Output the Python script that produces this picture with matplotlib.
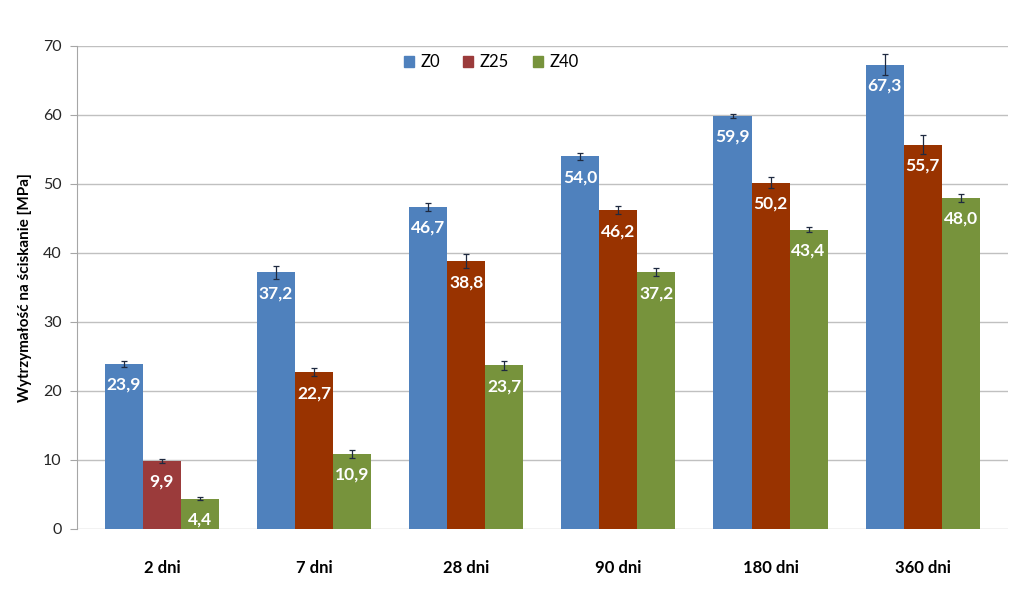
import numpy as np
import matplotlib.pyplot as plt
from matplotlib.patches import Patch

plt.rcParams['font.family'] = ['Lato', 'DejaVu Sans']

categories = ['2 dni', '7 dni', '28 dni', '90 dni', '180 dni', '360 dni']
series = ['Z0', 'Z25', 'Z40']
z0 = [23.9, 37.2, 46.7, 54.0, 59.9, 67.3]
z25 = [9.9, 22.7, 38.8, 46.2, 50.2, 55.7]
z40 = [4.4, 10.9, 23.7, 37.2, 43.4, 48.0]
z0_err = [0.4, 0.9, 0.6, 0.5, 0.3, 1.5]
z25_err = [0.3, 0.6, 1.0, 0.6, 0.8, 1.4]
z40_err = [0.2, 0.6, 0.6, 0.6, 0.3, 0.6]

colors = ['#4F81BD', '#993300', '#77933C']
first_red = '#9B3B3B'

fig = plt.figure(figsize=(10.24, 5.95), dpi=100)
ax = fig.add_axes([0.0752, 0.111, 0.9088, 0.8117])

x = np.arange(len(categories))
w = 0.25
for k, (vals, errs) in enumerate([(z0, z0_err), (z25, z25_err), (z40, z40_err)]):
    cols = [colors[k]] * len(vals)
    if k == 1:
        cols[0] = first_red
    pos = x + (k - 1) * w
    ax.bar(pos, vals, w, color=cols, zorder=2)
    ax.errorbar(pos, vals, yerr=errs, fmt='none', ecolor='#1F2A40',
                elinewidth=0.9, capsize=2.5, capthick=0.9, zorder=3)
    for p, v in zip(pos, vals):
        ax.annotate(f'{v:.1f}'.replace('.', ','), (p, v), xytext=(0, -15),
                    textcoords='offset points', ha='center', va='center',
                    color='white', fontsize=12.5, fontweight='bold', zorder=4)

ax.set_xlim(-0.558, 5.558)
ax.set_ylim(0, 70)
ax.set_yticks(range(0, 71, 10))
ax.set_xticks(x)
ax.set_xticklabels(categories, fontsize=12, fontweight='bold')
ax.tick_params(axis='x', length=0, pad=22)
ax.tick_params(axis='y', length=5, color='#A6A6A6', labelsize=11.5, pad=6, labelcolor='#262626')
ax.yaxis.grid(True, color='#C0C0C0', linewidth=1, zorder=0)
ax.set_axisbelow(True)
for s in ['top', 'right', 'bottom']:
    ax.spines[s].set_visible(False)
ax.spines['left'].set_color('#A6A6A6')
ax.set_ylabel('Wytrzymałość na ściskanie [MPa]', fontsize=11, fontweight='bold', labelpad=8)

handles = [Patch(color=colors[0]), Patch(color=first_red), Patch(color=colors[2])]
ax.legend(handles, series, loc='center', bbox_to_anchor=(0.445, 0.966), ncol=3,
          frameon=False, fontsize=12, handlelength=0.6, handleheight=0.6,
          handletextpad=0.4, columnspacing=1.4)

fig.savefig('out.png', dpi=100)
